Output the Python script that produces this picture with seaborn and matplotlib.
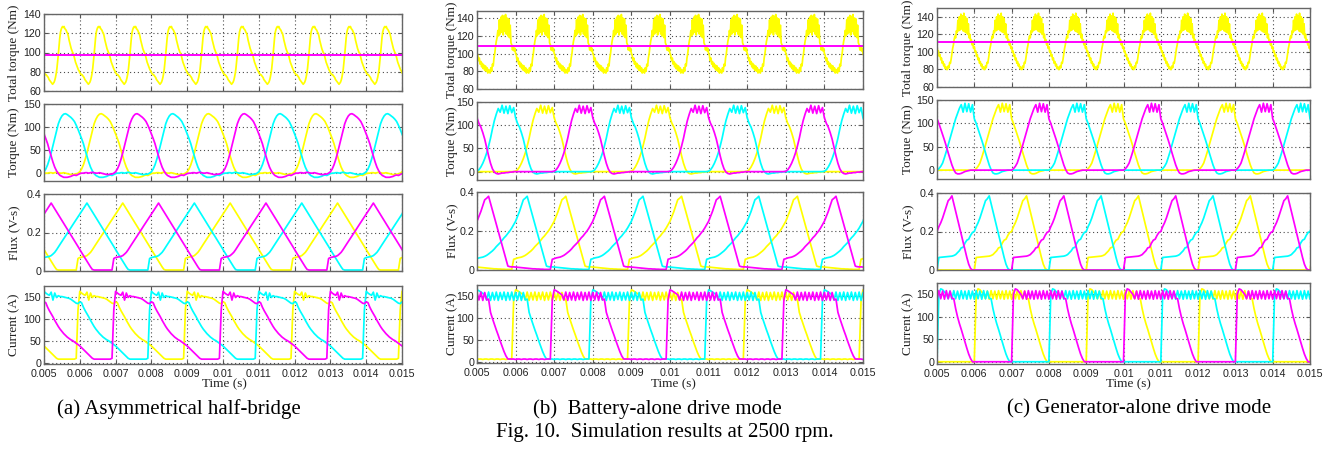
import numpy as np
import matplotlib
matplotlib.use("Agg")
import matplotlib.pyplot as plt
import seaborn as sns

# ---------------- data ----------------
TIME_TICKS = [0.005, 0.006, 0.007, 0.008, 0.009, 0.010, 0.011, 0.012, 0.013, 0.014, 0.015]
TIME_TICK_LABELS = ["0.005", "0.006", "0.007", "0.008", "0.009", "0.01",
                    "0.011", "0.012", "0.013", "0.014", "0.015"]

PHASE_STEP = 5e-5   # sample interval of the per-phase waveforms (s)
TOTAL_STEP = 2e-5   # sample interval of the total-torque waveform (s)

# phase excitation instants (s)
ab_on_yellow = [0.0029, 0.0059, 0.0089, 0.0119, 0.0149]
ab_on_magenta = [0.0039, 0.0069, 0.0099, 0.0129]
ab_on_cyan = [0.0019, 0.0049, 0.0079, 0.0109, 0.0139]
c_on_yellow = [0.003, 0.006, 0.009, 0.012, 0.015]
c_on_magenta = [0.004, 0.007, 0.010, 0.013]
c_on_cyan = [0.002, 0.005, 0.008, 0.011, 0.014]

# total torque ripple start instants (s)
a_tot_on = [0.00426, 0.00526, 0.00626, 0.00726, 0.00826, 0.00926, 0.01026, 0.01126, 0.01226, 0.01326, 0.01426]
b_tot_on = [0.00434, 0.00534, 0.00634, 0.00734, 0.00834, 0.00934, 0.01034, 0.01134, 0.01234, 0.01334, 0.01434]
c_tot_on = [0.00428, 0.00528, 0.00628, 0.00728, 0.00828, 0.00928, 0.01028, 0.01128, 0.01228, 0.01328, 0.01428]

# average (total) torque levels (Nm)
a_avg = 97.5
b_avg = 109.0
c_avg = 111.0

# (a) asymmetrical half-bridge: one phase cycle
a_current = [10, 120, 162, 158, 155, 153, 160, 142, 158, 148,
             152, 150, 150, 149, 148, 147, 146, 144, 141, 138,
             135, 134, 138, 136, 126, 118, 111, 104, 96, 89,
             82, 76, 71, 66, 62, 58, 55, 52, 50, 47,
             44, 41, 38, 34, 30, 26, 22, 18, 14, 10,
             8, 8, 8, 8, 8, 8, 8, 8, 8, 8]
a_flux = [0.005, 0.065, 0.07, 0.072, 0.074, 0.076, 0.08, 0.088, 0.097, 0.11,
          0.125, 0.139, 0.153, 0.168, 0.182, 0.196, 0.21, 0.225, 0.239, 0.253,
          0.267, 0.282, 0.296, 0.31, 0.324, 0.339, 0.353, 0.338, 0.323, 0.308,
          0.293, 0.278, 0.262, 0.247, 0.232, 0.217, 0.202, 0.187, 0.172, 0.157,
          0.142, 0.127, 0.111, 0.096, 0.081, 0.066, 0.051, 0.036, 0.021, 0.008,
          0.005, 0.005, 0.005, 0.005, 0.005, 0.005, 0.005, 0.005, 0.005, 0.005]
a_torque = [-2, 0, 3, 9, 18, 30, 44, 60, 77, 93,
            107, 117, 124, 128, 129, 127, 124, 121, 117, 112,
            104, 95, 85, 75, 64, 50, 37, 24, 13, 5,
            -1, -5, -7, -9, -9, -9, -8, -7, -5, -4,
            -5, -3, -1, 0, 0, 1, 1, 0, 1, 2,
            1, 0, 0, 1, 0, -1, -2, -3, -3, -2]
a_total = [68, 69, 71, 74, 78, 83, 90, 98, 107, 115,
           121, 124, 126, 127, 126, 127, 125, 124, 123, 121,
           120, 117, 113, 110, 107, 104, 102, 100, 99, 96,
           93, 90, 88, 86, 84, 82, 81, 79, 78, 77,
           77, 76, 75, 74, 72, 71, 70, 69, 68, 67]

# (b) battery-alone drive mode
b_current = [6, 140, 163, 161, 158, 155, 152, 140, 158, 139,
             157, 140, 158, 139, 157, 141, 158, 139, 157, 140,
             158, 139, 157, 140, 158, 139, 157, 140, 142, 112,
             98, 85, 72, 60, 47, 35, 23, 13, 6, 6,
             6, 6, 5, 6, 6, 5, 6, 6, 5, 6,
             6, 5, 6, 6, 5, 6, 6, 5, 6, 6]
b_flux = [0.003, 0.055, 0.058, 0.062, 0.064, 0.066, 0.07, 0.075, 0.082, 0.09,
          0.098, 0.108, 0.12, 0.13, 0.14, 0.152, 0.165, 0.175, 0.188, 0.2,
          0.215, 0.232, 0.25, 0.275, 0.3, 0.33, 0.36, 0.368, 0.378, 0.342,
          0.306, 0.27, 0.234, 0.198, 0.162, 0.126, 0.09, 0.054, 0.02, 0.017,
          0.016, 0.016, 0.015, 0.014, 0.013, 0.012, 0.011, 0.01, 0.009, 0.008,
          0.007, 0.006, 0.006, 0.005, 0.005, 0.004, 0.004, 0.003, 0.003, 0.003]
b_torque = [0, 0, 1, 4, 10, 18, 28, 40, 55, 72,
            92, 110, 124, 136, 128, 143, 126, 141, 125, 142,
            127, 138, 116, 104, 96, 84, 70, 52, 34, 18,
            6, -1, -4, -5, -4, -3, -3, -2, -2, -1,
            -1, 0, 0, 0, 0, 0, 0, 0, 0, 0,
            0, 0, 0, 0, 0, 0, 0, 0, 0, 0]
b_total = [78, 84, 80, 88, 86, 95, 100, 108, 114, 118,
           126, 120, 138, 122, 141, 124, 143, 121, 142, 125,
           144, 122, 140, 120, 139, 118, 132, 112, 110, 104,
           108, 103, 106, 100, 98, 92, 95, 88, 91, 85,
           89, 83, 87, 81, 86, 80, 84, 78, 82, 79]

# (c) generator-alone drive mode
c_current = [0, 150, 162, 160, 155, 150, 140, 157, 139, 158,
             140, 157, 139, 158, 140, 157, 139, 158, 140, 157,
             139, 158, 140, 157, 139, 158, 140, 157, 141, 140,
             118, 100, 85, 72, 58, 44, 30, 17, 7, 0,
             0, 0, 0, 0, 0, 0, 0, 0, 0, 0,
             0, 0, 0, 0, 0, 0, 0, 0, 0, 0]
c_flux = [0.0, 0.065, 0.066, 0.067, 0.068, 0.069, 0.07, 0.071, 0.072, 0.075,
          0.08, 0.09, 0.1, 0.115, 0.118, 0.14, 0.155, 0.16, 0.18, 0.195,
          0.2, 0.225, 0.245, 0.27, 0.3, 0.33, 0.36, 0.37, 0.385, 0.345,
          0.305, 0.265, 0.225, 0.185, 0.145, 0.105, 0.065, 0.03, 0.008, 0.0,
          0.0, 0.0, 0.0, 0.0, 0.0, 0.0, 0.0, 0.0, 0.0, 0.0,
          0.0, 0.0, 0.0, 0.0, 0.0, 0.0, 0.0, 0.0, 0.0, 0.0]
c_torque = [0, 3, 8, 15, 27, 40, 54, 68, 82, 96,
            110, 121, 132, 140, 124, 143, 125, 142, 124, 140,
            110, 100, 88, 76, 64, 51, 37, 24, 11, 1,
            -6, -8, -8, -7, -5, -3, -2, -1, 0, 0,
            0, 0, 0, 0, 0, 0, 0, 0, 0, 0,
            0, 0, 0, 0, 0, 0, 0, 0, 0, 0]
c_total = [80, 84, 82, 88, 87, 92, 98, 104, 108, 114,
           118, 116, 124, 122, 136, 124, 140, 125, 143, 126,
           141, 124, 144, 123, 140, 122, 138, 120, 132, 116,
           120, 112, 114, 108, 110, 104, 106, 100, 101, 95,
           97, 91, 93, 87, 89, 84, 86, 81, 83, 80]

Y_LABELS = ["Total torque (Nm)", "Torque (Nm)", "Flux (V-s)", "Current (A)"]
CAPTIONS = ["(a) Asymmetrical half-bridge", "(b)  Battery-alone drive mode",
            "(c) Generator-alone drive mode"]
FIG_CAPTION = "Fig. 10.  Simulation results at 2500 rpm."

# ---------------- styling / layout ----------------
YELLOW, MAGENTA, CYAN = "#FFFF00", "#FF00FF", "#00FFFF"
sns.set_theme(style="white")
plt.rcParams["font.family"] = ["Liberation Sans", "DejaVu Sans"]
SERIF = ["Liberation Serif", "DejaVu Serif"]

W, H = 1338, 451
fig = plt.figure(figsize=(W / 100, H / 100), dpi=100)
fig.patch.set_facecolor("white")


def add_ax(x0, x1, ytop, ybot):
    return fig.add_axes([x0 / W, 1 - ybot / H, (x1 - x0) / W, (ybot - ytop) / H])


def series(onsets, shape, step):
    t = np.concatenate([o + np.arange(len(shape)) * step for o in onsets])
    v = np.concatenate([np.asarray(shape, float) for _ in onsets])
    return t, v


def draw(ax, t, v, color, lw=1.25):
    sns.lineplot(x=t, y=v, ax=ax, color=color, linewidth=lw,
                 estimator=None, sort=False, legend=False)


panels = [
    dict(x0=44, x1=402, rows=[(14, 91), (104, 181), (194, 271), (286, 364)],
         on=(ab_on_yellow, ab_on_magenta, ab_on_cyan), tot_on=a_tot_on,
         cur=a_current, flux=a_flux, tq=a_torque, tot=a_total, avg=a_avg,
         ylims=[(60, 140), (-17, 150), (0, 0.4), (-3, 174)],
         ylab_x=14, xlab_x=224, cap_x=179),
    dict(x0=477, x1=863, rows=[(11, 89), (102, 180), (192, 270), (285, 363)],
         on=(ab_on_yellow, ab_on_magenta, ab_on_cyan), tot_on=b_tot_on,
         cur=b_current, flux=b_flux, tq=b_torque, tot=b_total, avg=b_avg,
         ylims=[(60, 148), (-18, 150), (0, 0.4), (-3, 174)],
         ylab_x=452, xlab_x=673, cap_x=657),
    dict(x0=937, x1=1310, rows=[(8, 87), (100, 179), (193, 270), (283, 364)],
         on=(c_on_yellow, c_on_magenta, c_on_cyan), tot_on=c_tot_on,
         cur=c_current, flux=c_flux, tq=c_torque, tot=c_total, avg=c_avg,
         ylims=[(60, 150), (-19, 150), (0, 0.4), (-5, 175)],
         ylab_x=908, xlab_x=1128, cap_x=1139),
]
YTICKS = [[60, 80, 100, 120, 140], [0, 50, 100, 150], [0, 0.2, 0.4], [0, 50, 100, 150]]
YTICKLABELS = [["60", "80", "100", "120", "140"], ["0", "50", "100", "150"],
               ["0", "0.2", "0.4"], ["0", "50", "100", "150"]]

for p in panels:
    axes = [add_ax(p["x0"], p["x1"], r[0], r[1]) for r in p["rows"]]
    on_y, on_m, on_c = p["on"]
    # row 1: total torque
    t, v = series(p["tot_on"], p["tot"], TOTAL_STEP)
    draw(axes[0], t, v, YELLOW)
    draw(axes[0], np.array([0.004, 0.016]), np.array([p["avg"], p["avg"]]), MAGENTA, lw=1.4)
    # rows 2-4: phase torque, flux, current
    for ax, shape in zip(axes[1:], [p["tq"], p["flux"], p["cur"]]):
        for ons, col in [(on_y, YELLOW), (on_c, CYAN), (on_m, MAGENTA)]:
            t, v = series(ons, shape, PHASE_STEP)
            draw(ax, t, v, col)
    for i, ax in enumerate(axes):
        ax.set_facecolor("white")
        ax.set_xlim(0.005, 0.015)
        ax.set_ylim(*p["ylims"][i])
        ax.set_xticks(TIME_TICKS)
        ax.set_yticks(YTICKS[i])
        ax.set_yticklabels(YTICKLABELS[i])
        if i == 3:
            ax.set_xticklabels(TIME_TICK_LABELS)
        else:
            ax.set_xticklabels([])
        ax.set_xlabel("")
        ax.set_ylabel("")
        ax.grid(True, linestyle=(0, (1, 2.5)), color="#4a4a4a", linewidth=0.8)
        ax.tick_params(direction="in", length=3, width=0.8, color="#555555",
                       top=True, right=True, labelsize=7.7, labelcolor="#222222",
                       bottom=True, left=True)
        ax.tick_params(axis="x", pad=3.5)
        ax.tick_params(axis="y", pad=2)
        for s in ax.spines.values():
            s.set_color("#666666")
            s.set_linewidth(1.0)
        r = p["rows"][i]
        fig.text(p["ylab_x"] / W, 1 - (r[0] + r[1]) / 2 / H, Y_LABELS[i], rotation=90,
                 ha="center", va="center", fontsize=9.5, family=SERIF, color="#222222")
    fig.text(p["xlab_x"] / W, 1 - 384 / H, "Time (s)", ha="center", va="center",
             fontsize=9.5, family=SERIF, color="#222222")

for p, cap in zip(panels, CAPTIONS):
    fig.text(p["cap_x"] / W, 1 - 409 / H, cap, ha="center", va="center",
             fontsize=15, family=SERIF, color="black")
fig.text(665 / W, 1 - 433 / H, FIG_CAPTION, ha="center", va="center",
         fontsize=15, family=SERIF, color="black")

fig.savefig("out.png", dpi=100, facecolor="white")
